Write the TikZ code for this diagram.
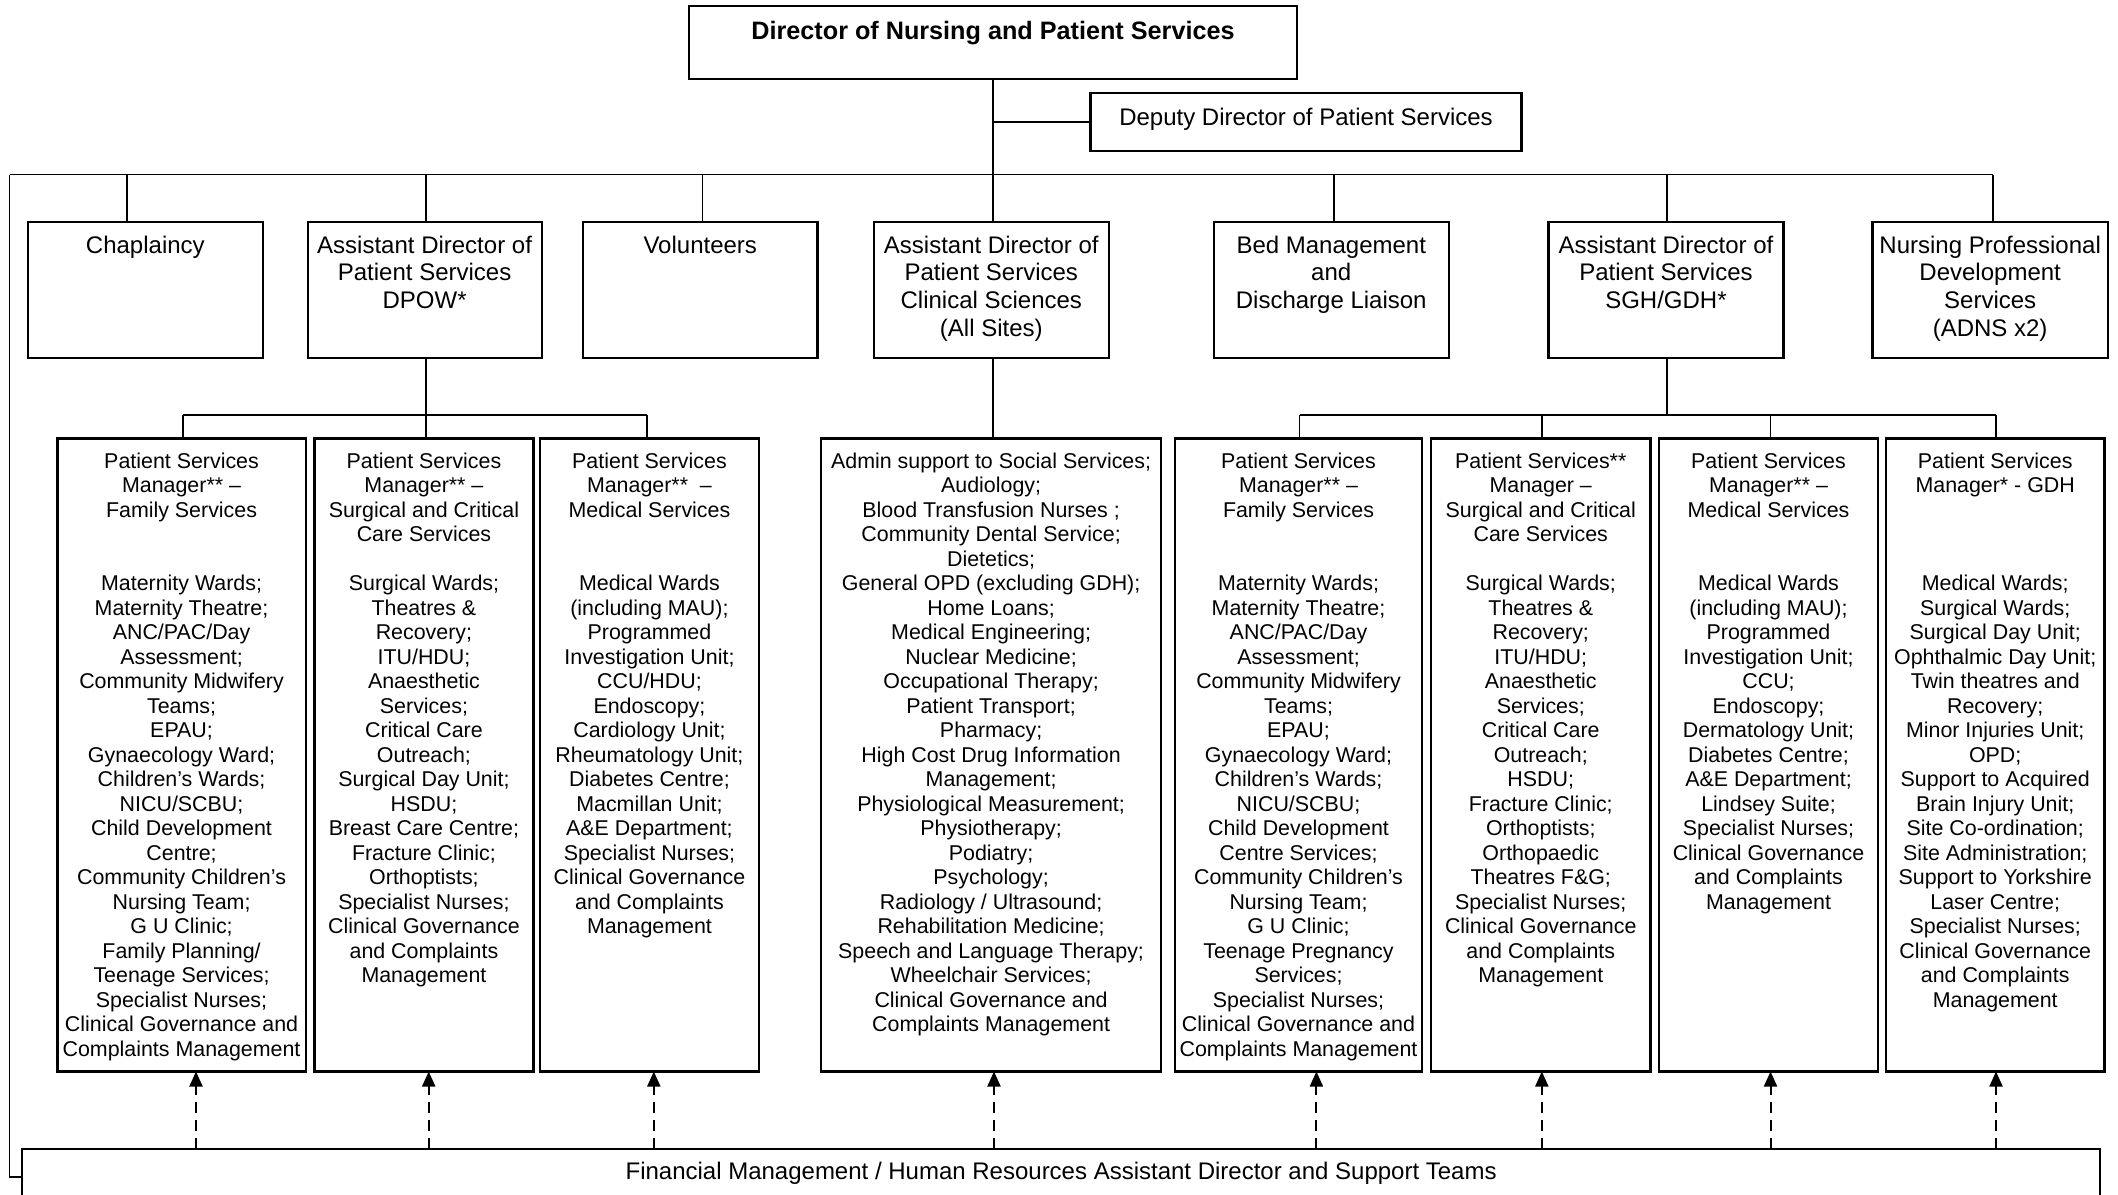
\documentclass[tikz,border=0pt]{standalone}
\usepackage{fontspec}
\setmainfont{Liberation Sans}
\usetikzlibrary{arrows.meta}
\newdimen\pxu
\pxu=0.5pt
\newcommand{\orgtext}[4]{\parbox[t][#2\pxu][t]{#1\pxu}{\centering\vspace*{#3}\strut#4}}
\tikzset{
  orgbox/.style={draw, line width=1.1pt, inner sep=0pt, outer sep=0pt, anchor=north west},
  topfont/.style={font=\bfseries\fontsize{12.6}{14.5}\selectfont},
  midfont/.style={font=\fontsize{12}{13.8}\selectfont},
  lowfont/.style={font=\fontsize{10.7}{12.25}\selectfont},
  link/.style={line width=0.9pt},
  support/.style={line width=1pt, dash pattern=on 5.5pt off 3.5pt, -{Triangle[length=7.5pt,width=6.5pt]}},
}
\begin{document}
\begin{tikzpicture}[x=0.5pt,y=-0.5pt]
\useasboundingbox (0,0) rectangle (2118,1194);
\clip (0,0) rectangle (2118,1194);

% ---------- top level ----------
\node[orgbox, topfont] (dir) at (689,6) {\orgtext{608}{73}{6.7pt}{Director of Nursing and Patient Services}};
\node[orgbox, midfont] (dep) at (1090.5,93.3) {\orgtext{431}{57.4}{6.3pt}{Deputy Director of Patient Services}};

% ---------- second level ----------
\node[orgbox, midfont] (chap) at (27.7,222) {\orgtext{235.3}{136}{6pt}{Chaplaincy}};
\node[orgbox, midfont] (dpow) at (307.6,222) {\orgtext{234}{136}{6pt}{Assistant Director of\\Patient Services\\DPOW*}};
\node[orgbox, midfont] (vol) at (583,222) {\orgtext{234.5}{136}{6pt}{Volunteers}};
\node[orgbox, midfont] (cs) at (874,222) {\orgtext{234.6}{136}{6pt}{Assistant Director of\\Patient Services\\Clinical Sciences\\(All Sites)}};
\node[orgbox, midfont] (bed) at (1213.8,222) {\orgtext{234.9}{136}{6pt}{Bed Management\\and\\Discharge Liaison}};
\node[orgbox, midfont] (sgh) at (1548.5,222) {\orgtext{234.9}{136}{6pt}{Assistant Director of\\Patient Services\\SGH/GDH*}};
\node[orgbox, midfont] (npd) at (1872.4,222) {\orgtext{235.5}{136}{6pt}{Nursing Professional\\Development\\Services\\(ADNS x2)}};

% ---------- third level ----------
\node[orgbox, lowfont] (l3a) at (57.5,438.5) {\orgtext{248.1}{633}{6.3pt}{Patient Services\\Manager** –\\Family Services\\[2\baselineskip]Maternity Wards;\\Maternity Theatre;\\ANC/PAC/Day\\Assessment;\\Community Midwifery\\Teams;\\EPAU;\\Gynaecology Ward;\\Children’s Wards;\\NICU/SCBU;\\Child Development\\Centre;\\Community Children’s\\Nursing Team;\\G U Clinic;\\Family Planning/\\Teenage Services;\\Specialist Nurses;\\Clinical Governance and\\Complaints Management}};
\node[orgbox, lowfont] (l3b) at (314.4,438.5) {\orgtext{219.1}{633}{6.3pt}{Patient Services\\Manager** –\\Surgical and Critical\\Care Services\\[\baselineskip]Surgical Wards;\\Theatres \&\\Recovery;\\ITU/HDU;\\Anaesthetic\\Services;\\Critical Care\\Outreach;\\Surgical Day Unit;\\HSDU;\\Breast Care Centre;\\Fracture Clinic;\\Orthoptists;\\Specialist Nurses;\\Clinical Governance\\and Complaints\\Management}};
\node[orgbox, lowfont] (l3c) at (539.6,438.5) {\orgtext{219.7}{633}{6.3pt}{Patient Services\\Manager**\ \ –\\Medical Services\\[2\baselineskip]Medical Wards\\(including MAU);\\Programmed\\Investigation Unit;\\CCU/HDU;\\Endoscopy;\\Cardiology Unit;\\Rheumatology Unit;\\Diabetes Centre;\\Macmillan Unit;\\A\&E Department;\\Specialist Nurses;\\Clinical Governance\\and Complaints\\Management}};
\node[orgbox, lowfont] (l3d) at (821,438.5) {\orgtext{340.2}{633}{6.3pt}{Admin support to Social Services;\\Audiology;\\Blood Transfusion Nurses ;\\Community Dental Service;\\Dietetics;\\General OPD (excluding GDH);\\Home Loans;\\Medical Engineering;\\Nuclear Medicine;\\Occupational Therapy;\\Patient Transport;\\Pharmacy;\\High Cost Drug Information\\Management;\\Physiological Measurement;\\Physiotherapy;\\Podiatry;\\Psychology;\\Radiology / Ultrasound;\\Rehabilitation Medicine;\\Speech and Language Therapy;\\Wheelchair Services;\\Clinical Governance and\\Complaints Management}};
\node[orgbox, lowfont] (l3e) at (1174.7,438.5) {\orgtext{247.6}{633}{6.3pt}{Patient Services\\Manager** –\\Family Services\\[2\baselineskip]Maternity Wards;\\Maternity Theatre;\\ANC/PAC/Day\\Assessment;\\Community Midwifery\\Teams;\\EPAU;\\Gynaecology Ward;\\Children’s Wards;\\NICU/SCBU;\\Child Development\\Centre Services;\\Community Children’s\\Nursing Team;\\G U Clinic;\\Teenage Pregnancy\\Services;\\Specialist Nurses;\\Clinical Governance and\\Complaints Management}};
\node[orgbox, lowfont] (l3f) at (1431.1,438.5) {\orgtext{219.3}{633}{6.3pt}{Patient Services**\\Manager –\\Surgical and Critical\\Care Services\\[\baselineskip]Surgical Wards;\\Theatres \&\\Recovery;\\ITU/HDU;\\Anaesthetic\\Services;\\Critical Care\\Outreach;\\HSDU;\\Fracture Clinic;\\Orthoptists;\\Orthopaedic\\Theatres F\&G;\\Specialist Nurses;\\Clinical Governance\\and Complaints\\Management}};
\node[orgbox, lowfont] (l3g) at (1659.2,438.5) {\orgtext{218.6}{633}{6.3pt}{Patient Services\\Manager** –\\Medical Services\\[2\baselineskip]Medical Wards\\(including MAU);\\Programmed\\Investigation Unit;\\CCU;\\Endoscopy;\\Dermatology Unit;\\Diabetes Centre;\\A\&E Department;\\Lindsey Suite;\\Specialist Nurses;\\Clinical Governance\\and Complaints\\Management}};
\node[orgbox, lowfont] (l3h) at (1885.9,438.5) {\orgtext{218.6}{633}{6.3pt}{Patient Services\\Manager* - GDH\\[3\baselineskip]Medical Wards;\\Surgical Wards;\\Surgical Day Unit;\\Ophthalmic Day Unit;\\Twin theatres and\\Recovery;\\Minor Injuries Unit;\\OPD;\\Support to Acquired\\Brain Injury Unit;\\Site Co-ordination;\\Site Administration;\\Support to Yorkshire\\Laser Centre;\\Specialist Nurses;\\Clinical Governance\\and Complaints\\Management}};

% ---------- bottom support box ----------
\node[orgbox, midfont] (fin) at (22.3,1149) {\orgtext{2077.7}{100}{5.8pt}{Financial Management / Human Resources Assistant Director and Support Teams}};

% ---------- connectors ----------
\coordinate (busL) at (9.5,174.5);
\coordinate (busR) at (1993,174.5);
\draw[link] (busL) -- (busR);
\draw[link] (dir.south) -- (dir.south |- cs.north);
\draw[link] (dep.west) -- (dep.west -| dir.south);

\coordinate (bchap) at (127,174.5);
\coordinate (bdpow) at (426,174.5);
\coordinate (bvol) at (702.5,174.5);
\coordinate (bbed) at (1334,174.5);
\coordinate (bsgh) at (1666.6,174.5);
\draw[link] (bchap) -- (bchap |- chap.north);
\draw[link] (bdpow) -- (bdpow |- dpow.north);
\draw[link] (bvol) -- (bvol |- vol.north);
\draw[link] (bbed) -- (bbed |- bed.north);
\draw[link] (bsgh) -- (bsgh |- sgh.north);
\draw[link] (busR) -- (busR |- npd.north);

% DPOW bracket
\coordinate (dbL) at (182.6,414.7);
\coordinate (dbR) at (647,414.7);
\draw[link] (bdpow |- dpow.south) -- (bdpow |- l3b.north);
\draw[link] (dbL) -- (dbR);
\draw[link] (dbL) -- (dbL |- l3a.north);
\draw[link] (dbR) -- (dbR |- l3c.north);

% Clinical sciences
\draw[link] (dir.south |- cs.south) -- (dir.south |- l3d.north);

% SGH/GDH bracket
\coordinate (sbL) at (1299.5,414.7);
\coordinate (sbB) at (1541.8,414.7);
\coordinate (sbC) at (1770.5,414.7);
\coordinate (sbR) at (1996,414.7);
\draw[link] (bsgh |- sgh.south) -- (bsgh |- sbL);
\draw[link] (sbL) -- (sbR);
\draw[link] (sbL) -- (sbL |- l3e.north);
\draw[link] (sbB) -- (sbB |- l3f.north);
\draw[link] (sbC) -- (sbC |- l3g.north);
\draw[link] (sbR) -- (sbR |- l3h.north);

% left line to support box
\coordinate (fcorner) at (9.5,1176.7);
\draw[link] (busL) -- (fcorner) -- (fcorner -| fin.west);

% dashed support arrows
\coordinate (a1) at (196,0);
\coordinate (a2) at (428.7,0);
\coordinate (a3) at (653.8,0);
\coordinate (a4) at (994,0);
\coordinate (a5) at (1316.4,0);
\coordinate (a6) at (1541.8,0);
\coordinate (a7) at (1770.5,0);
\coordinate (a8) at (1996,0);
\draw[support] (a1 |- fin.north) -- (a1 |- l3a.south);
\draw[support] (a2 |- fin.north) -- (a2 |- l3b.south);
\draw[support] (a3 |- fin.north) -- (a3 |- l3c.south);
\draw[support] (a4 |- fin.north) -- (a4 |- l3d.south);
\draw[support] (a5 |- fin.north) -- (a5 |- l3e.south);
\draw[support] (a6 |- fin.north) -- (a6 |- l3f.south);
\draw[support] (a7 |- fin.north) -- (a7 |- l3g.south);
\draw[support] (a8 |- fin.north) -- (a8 |- l3h.south);
\end{tikzpicture}
\end{document}
